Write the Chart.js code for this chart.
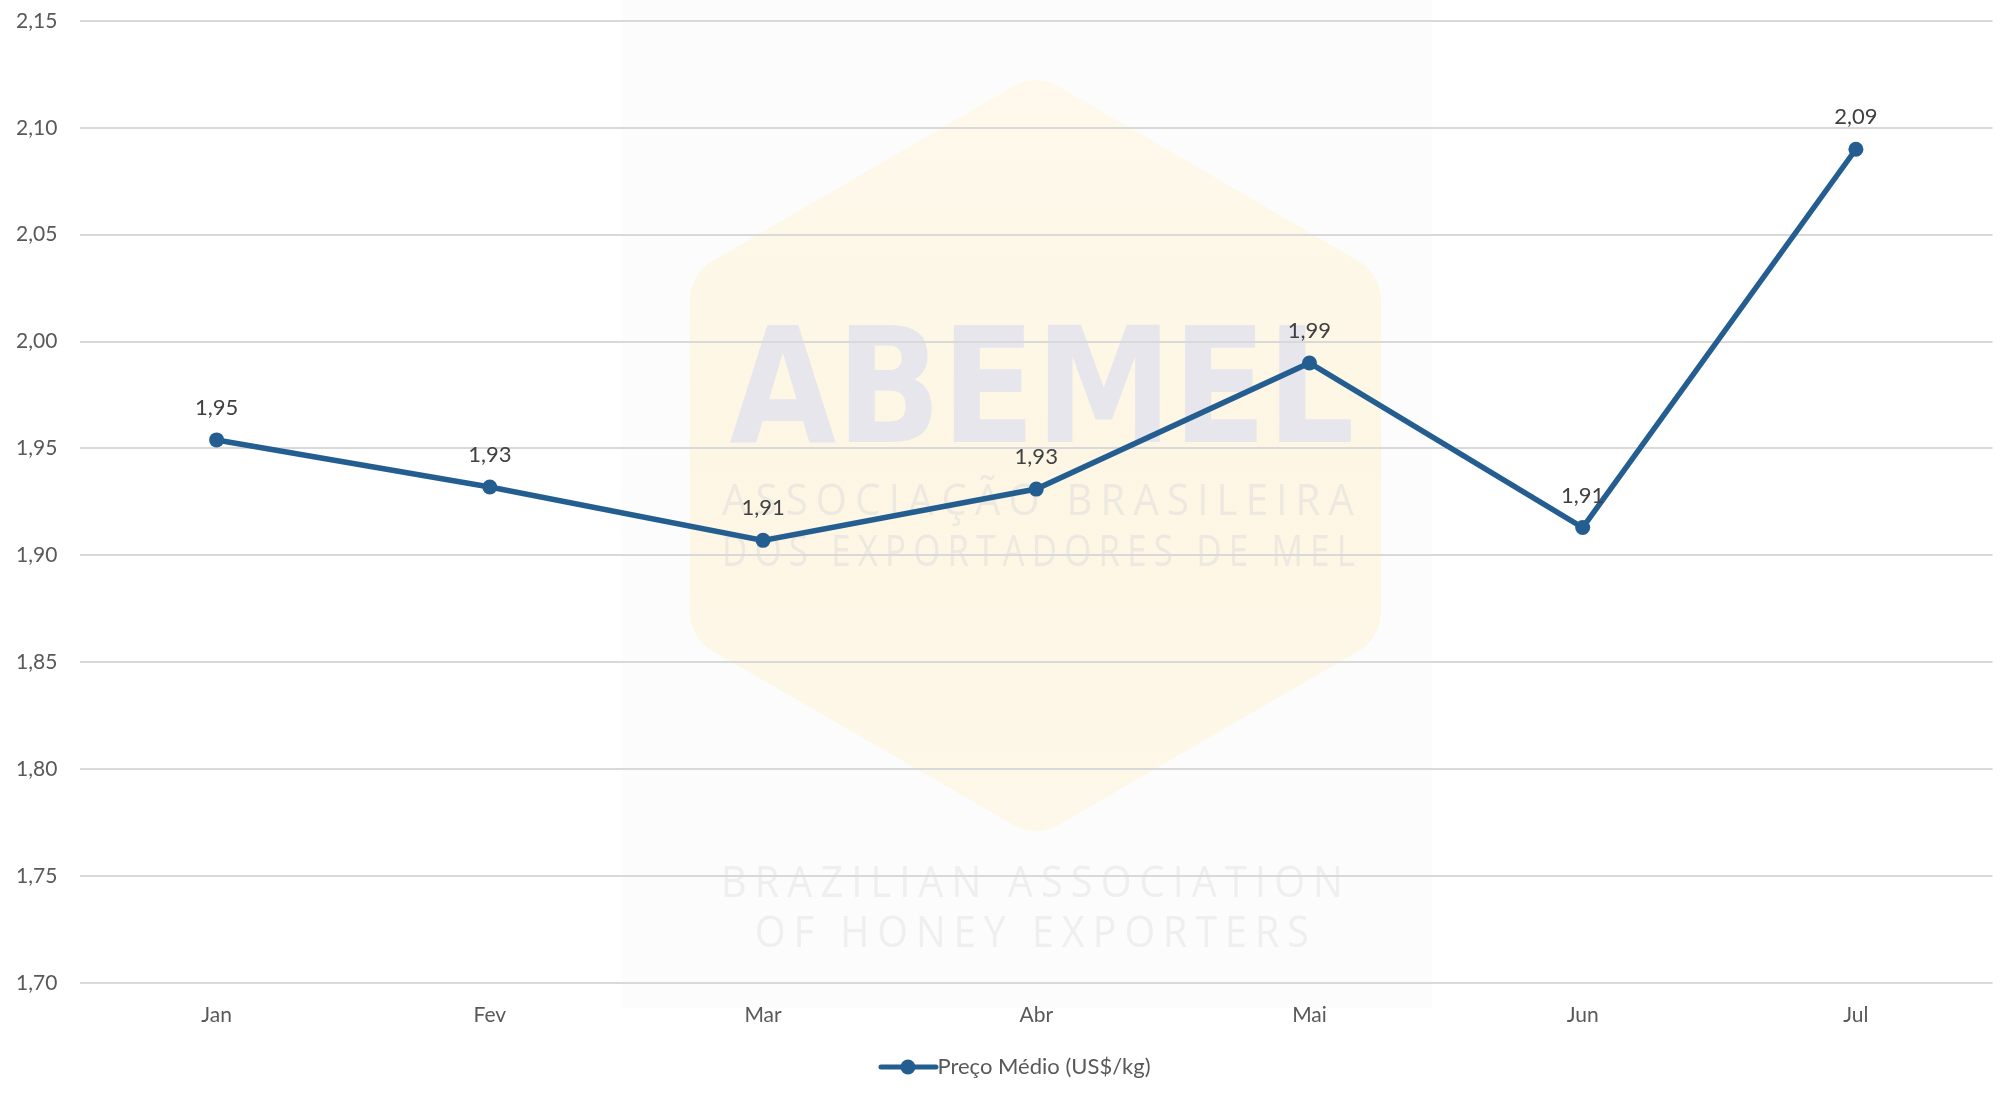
<!DOCTYPE html>
<html>
<head>
<meta charset="utf-8">
<script src="https://cdn.jsdelivr.net/npm/chart.js@4/dist/chart.umd.min.js"></script>
<style>
  html, body { margin: 0; padding: 0; background: #fff; }
  #wrap { width: 2000px; height: 1096px; position: relative; }
</style>
</head>
<body>
<div id="wrap"><canvas id="myChart" width="2000" height="1096"></canvas></div>
<script>
'use strict';

// chart data
const months = ['Jan', 'Fev', 'Mar', 'Abr', 'Mai', 'Jun', 'Jul'];
const precoMedio = [1.954, 1.932, 1.907, 1.931, 1.990, 1.913, 2.090];
const seriesName = 'Preço Médio (US$/kg)';
const yTicks = [1.70, 1.75, 1.80, 1.85, 1.90, 1.95, 2.00, 2.05, 2.10, 2.15];

const lineColor = '#245e91';
const fontFamily = 'Lato, "Open Sans", sans-serif';

function fmt(v) {
  return v.toFixed(2).replace('.', ',');
}

// rounded hexagon path for the faint logo behind the plot
function hexPath(ctx, pts, r) {
  ctx.beginPath();
  const n = pts.length;
  const mx = (pts[0][0] + pts[n - 1][0]) / 2, my = (pts[0][1] + pts[n - 1][1]) / 2;
  ctx.moveTo(mx, my);
  for (let i = 0; i < n; i++) {
    const p = pts[i], q = pts[(i + 1) % n];
    ctx.arcTo(p[0], p[1], q[0], q[1], r);
  }
  ctx.closePath();
}

const watermark = {
  id: 'watermark',
  beforeDraw(chart) {
    const ctx = chart.ctx;
    ctx.save();
    ctx.fillStyle = '#fcfcfc';
    ctx.fillRect(622, 0, 810, 1008);

    const pts = [[1036, 73], [1381, 274], [1381, 638], [1036, 838], [690, 638], [690, 274]];
    const g = ctx.createLinearGradient(0, 73, 0, 838);
    g.addColorStop(0, '#fef9ec');
    g.addColorStop(0.5, '#fdf6e4');
    g.addColorStop(1, '#fef8ea');
    ctx.fillStyle = g;
    hexPath(ctx, pts, 45);
    ctx.fill();

    ctx.textAlign = 'center';
    ctx.textBaseline = 'middle';
    ctx.fillStyle = '#e8e6ed';
    ctx.font = 'bold 160px "DejaVu Sans", sans-serif';
    ctx.fillText('ABEMEL', 1042, 400, 625);

    ctx.fillStyle = '#ede9e1';
    ctx.font = '44px "Open Sans", sans-serif';
    ctx.letterSpacing = '9px';
    ctx.fillText('ASSOCIAÇÃO BRASILEIRA', 1042, 502, 640);
    ctx.fillText('DOS EXPORTADORES DE MEL', 1042, 553, 640);

    ctx.fillStyle = '#efefef';
    ctx.fillText('BRAZILIAN ASSOCIATION', 1036, 884, 630);
    ctx.fillText('OF HONEY EXPORTERS', 1036, 934, 562);
    ctx.restore();
  }
};

const dataLabels = {
  id: 'dataLabels',
  afterDatasetsDraw(chart) {
    const ctx = chart.ctx;
    const meta = chart.getDatasetMeta(0);
    ctx.save();
    ctx.font = '22px ' + fontFamily;
    ctx.fillStyle = '#404040';
    ctx.textAlign = 'center';
    ctx.textBaseline = 'middle';
    meta.data.forEach(function (pt, i) {
      ctx.fillText(fmt(precoMedio[i]), pt.x, pt.y - 32);
    });
    ctx.restore();
  }
};

// legend symbol: line with a dot in the middle
const legendIcon = document.createElement('canvas');
legendIcon.width = 90;
legendIcon.height = 18;
(function () {
  const c = legendIcon.getContext('2d');
  c.strokeStyle = lineColor;
  c.lineWidth = 5;
  c.lineCap = 'round';
  c.beginPath();
  c.moveTo(32, 9);
  c.lineTo(87, 9);
  c.stroke();
  c.fillStyle = lineColor;
  c.beginPath();
  c.arc(59, 9, 7.5, 0, Math.PI * 2);
  c.fill();
})();

const chart = new Chart(document.getElementById('myChart'), {
  type: 'line',
  data: {
    labels: months,
    datasets: [{
      label: seriesName,
      data: precoMedio,
      borderColor: lineColor,
      backgroundColor: lineColor,
      borderWidth: 5.5,
      pointRadius: 7.5,
      pointBackgroundColor: lineColor,
      pointBorderWidth: 0,
      tension: 0,
      fill: false
    }]
  },
  options: {
    responsive: false,
    animation: false,
    layout: { padding: { top: 21, right: 4, bottom: 8, left: 16 } },
    plugins: {
      tooltip: { enabled: false },
      legend: {
        position: 'bottom',
        labels: {
          usePointStyle: true,
          pointStyleWidth: 65,
          padding: 8,
          color: '#595959',
          font: { family: fontFamily, size: 22 },
          generateLabels: function (ch) {
            return [{
              text: seriesName,
              pointStyle: legendIcon,
              fillStyle: lineColor,
              strokeStyle: lineColor,
              lineWidth: 0,
              fontColor: '#595959',
              datasetIndex: 0
            }];
          }
        }
      }
    },
    scales: {
      x: {
        offset: true,
        grid: { display: false, drawTicks: false },
        border: { display: false },
        ticks: { color: '#595959', padding: 20, font: { family: fontFamily, size: 21 } }
      },
      y: {
        min: 1.70,
        max: 2.15,
        afterBuildTicks: function (s) {
          s.ticks = yTicks.map(function (v) { return { value: v }; });
        },
        afterFit: function (s) { s.width = 64; },
        grid: { color: '#d9d9d9', lineWidth: 2, drawTicks: false },
        border: { display: false },
        ticks: {
          color: '#595959',
          padding: 0,
          crossAlign: 'far',
          font: { family: fontFamily, size: 21 },
          callback: function (v) { return fmt(v); }
        }
      }
    }
  },
  plugins: [watermark, dataLabels]
});
</script>
</body>
</html>
